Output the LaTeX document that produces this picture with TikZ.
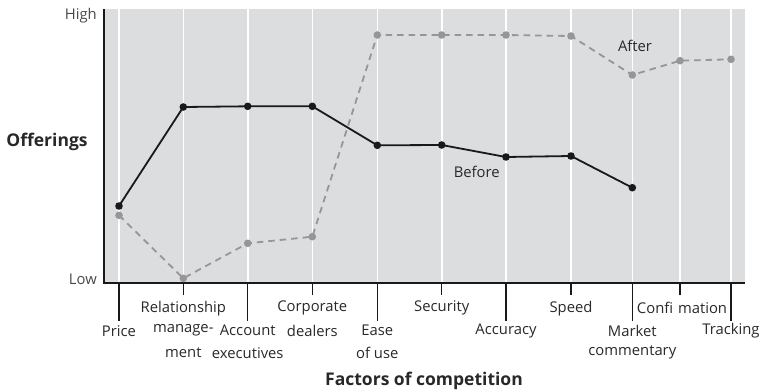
\documentclass[tikz,border=0pt]{standalone}
\usepackage{fontspec}
\setmainfont{Open Sans}
\definecolor{bgc}{RGB}{220,221,223}
\definecolor{txt}{RGB}{40,40,40}
\definecolor{aft}{RGB}{150,150,152}
\definecolor{bef}{RGB}{25,25,25}
\tikzset{
  lbl/.style={font=\fontsize{14.8}{17}\selectfont, text=txt, inner sep=0pt, align=center},
  ttl/.style={font=\fontsize{17.5}{20}\selectfont\bfseries, text=txt, inner sep=0pt},
  grid/.style={white, line width=1.6pt},
  axisline/.style={bef, line width=1.5pt},
  tickline/.style={bef, line width=1.2pt},
  beforeline/.style={bef, line width=1.8pt},
  afterline/.style={aft, line width=1.8pt, dash pattern=on 6.5pt off 5pt},
  bdot/.style={fill=bef},
  adot/.style={fill=aft}
}
\begin{document}
\begin{tikzpicture}[x=1pt,y=-1pt]
\useasboundingbox (0,0) rectangle (765,391);
\fill[bgc] (104,9) rectangle (745,283);
\foreach \x in {119,183.3,247.7,312.3,377.3,441.7,506,571,632.3,680,731}
  \draw[grid] (\x,9) -- (\x,283);
% long ticks
\foreach \x in {119,247.7,377.3,506,632.3,731}
  \draw[tickline] (\x,283) -- (\x,321);
% short ticks
\foreach \x in {183.3,312.3,441.7,571,680}
  \draw[tickline] (\x,283) -- (\x,295);
\draw[axisline] (104,9) -- (104,283) -- (745,283);

% before points
\coordinate (b1) at (119,206);
\coordinate (b2) at (183.3,107);
\coordinate (b3) at (247.7,106.3);
\coordinate (b4) at (312.3,106.3);
\coordinate (b5) at (377.3,145.3);
\coordinate (b6) at (441.7,145);
\coordinate (b7) at (506,157);
\coordinate (b8) at (571,156);
\coordinate (b9) at (632.3,187.7);
% after points
\coordinate (a1) at (119,215.3);
\coordinate (a2) at (183.3,278.3);
\coordinate (a3) at (247.7,243.3);
\coordinate (a4) at (312.3,236.7);
\coordinate (a5) at (377.3,35);
\coordinate (a6) at (441.7,35);
\coordinate (a7) at (506,35);
\coordinate (a8) at (571,36);
\coordinate (a9) at (632.3,75);
\coordinate (a10) at (680,60.7);
\coordinate (a11) at (731,59.3);

\draw[afterline] (a1) -- (a2) -- (a3) -- (a4) -- (a5) -- (a6) -- (a7) -- (a8) -- (a9) -- (a10) -- (a11);
\foreach \p in {a1,a2,a3,a4,a5,a6,a7,a8,a9,a10,a11}
  \fill[adot] (\p) circle (3.8pt);
\draw[beforeline] (b1) -- (b2) -- (b3) -- (b4) -- (b5) -- (b6) -- (b7) -- (b8) -- (b9);
\foreach \p in {b1,b2,b3,b4,b5,b6,b7,b8,b9}
  \fill[bdot] (\p) circle (3.8pt);

\node[lbl] (after) at (635,46) {After};
\node[lbl] (before) at (476.7,171.7) {Before};

\node[lbl, anchor=east, text=txt!85] (high) at (97,16) {High};
\node[lbl, anchor=east, text=txt!85] (low) at (97,279) {Low};
\node[ttl] (offer) at (47,142) {Offerings};
\node[ttl] (factors) at (424,380.5) {Factors of competition};

% short tick labels
\node[lbl] (l2) at (183.3,308.3) {Relationship};
\node[lbl] (l2b) at (183.3,330.7) {manage-};
\node[lbl] (l2c) at (183.3,352.7) {ment};
\node[lbl] (l4) at (312.3,308.3) {Corporate};
\node[lbl] (l4b) at (312.3,330.7) {dealers};
\node[lbl] (l6) at (441.7,308.3) {Security};
\node[lbl] (l8) at (571,308.3) {Speed};
\node[lbl] (l10) at (682,308.3) {Confi\,\,mation};
% long tick labels
\node[lbl] (l1) at (119,330.7) {Price};
\node[lbl] (l3) at (247.7,330.7) {Account};
\node[lbl] (l3b) at (247.7,352.7) {executives};
\node[lbl] (l5) at (377.3,330.7) {Ease};
\node[lbl] (l5b) at (377.3,352.7) {of use};
\node[lbl] (l7) at (506,330.7) {Accuracy};
\node[lbl] (l9) at (632.3,330.7) {Market};
\node[lbl] (l9b) at (632.3,352.7) {commentary};
\node[lbl] (l11) at (731,330.7) {Tracking};
\end{tikzpicture}
\end{document}
